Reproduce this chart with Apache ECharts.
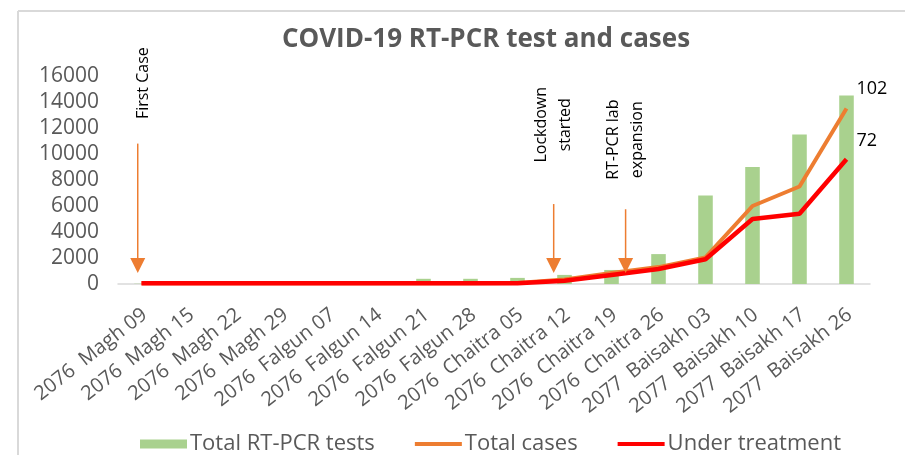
<!DOCTYPE html>
<html>
<head>
<meta charset="utf-8">
<script src="https://cdn.jsdelivr.net/npm/echarts@6/dist/echarts.min.js"></script>
<style>
  html, body { margin: 0; padding: 0; background: #fff; }
  #chart { width: 911px; height: 455px; }
</style>
</head>
<body>
<div id="chart"></div>
<script>
// 数据
const categories = [
  '2076  Magh 09', '2076  Magh 15', '2076  Magh 22', '2076  Magh 29',
  '2076  Falgun 07', '2076  Falgun 14', '2076  Falgun 21', '2076  Falgun 28',
  '2076  Chaitra 05', '2076  Chaitra 12', '2076  Chaitra 19', '2076  Chaitra 26',
  '2077  Baisakh 03', '2077  Baisakh 10', '2077  Baisakh 17', '2077  Baisakh 26'
]
const totalTests = [20, 30, 40, 50, 70, 120, 400, 400, 470, 700, 1080, 2300, 6800, 9000, 11500, 14500]
const totalCases = [60, 60, 60, 60, 60, 60, 60, 60, 80, 350, 850, 1300, 2050, 6000, 7500, 13500]
const underTreatment = [50, 50, 50, 50, 50, 50, 50, 50, 60, 250, 700, 1150, 1900, 5000, 5400, 9600]
const yMin = 0
const yMax = 16000
const yStep = 2000

// 线末端标签
const endLabels = ['102', '72']

// 事件注释：箭头所在的类目位置（可为小数）、箭头尾部数值、文字中心数值
const annotationTexts = ['First Case', 'Lockdown\nstarted', 'RT-PCR lab\nexpansion']
const annotationIndex = [-0.08, 8.77, 10.3]
const annotationTail = [10800, 6150, 5750]
const annotationTextY = [15450, 12250, 11100]
const annotationTip = 850

const grey = '#595959'
const chart = echarts.init(document.getElementById('chart'))

const endLabel = (text, dy) => ({
  show: true,
  distance: 10,
  offset: [0, dy],
  formatter: text,
  color: '#000',
  fontSize: 18,
  fontFamily: 'Open Sans'
})

chart.setOption({
  animation: false,
  backgroundColor: '#fff',
  title: {
    text: 'COVID-19 RT-PCR test and cases',
    left: 481,
    top: 22,
    textAlign: 'center',
    textStyle: {
      color: grey,
      fontSize: 26,
      fontWeight: 'bold',
      fontFamily: 'Open Sans'
    }
  },
  legend: {
    left: 135,
    top: 428,
    itemGap: 40,
    itemWidth: 47,
    itemHeight: 9,
    textStyle: { color: grey, fontSize: 22, fontFamily: 'Open Sans', padding: [0, 0, 0, -2] },
    data: [
      { name: 'Total RT-PCR tests', icon: 'rect' },
      { name: 'Total cases', icon: 'path://M0,0 L50,0 L50,4 L0,4 Z' },
      { name: 'Under treatment', icon: 'path://M0,0 L50,0 L50,4.5 L0,4.5 Z' }
    ]
  },
  grid: {
    left: 118,
    right: 41,
    top: 76,
    bottom: 171,
    containLabel: false
  },
  xAxis: {
    type: 'category',
    data: categories,
    axisLine: { lineStyle: { color: '#d9d9d9', width: 1.5 } },
    axisTick: { show: false },
    axisLabel: {
      interval: 0,
      rotate: 38,
      margin: 31,
      padding: [0, -4, 0, 0],
      color: grey,
      fontSize: 20,
      fontFamily: 'Open Sans'
    }
  },
  yAxis: {
    type: 'value',
    min: yMin,
    max: yMax,
    interval: yStep,
    axisLine: { show: false },
    axisTick: { show: false },
    splitLine: { show: false },
    axisLabel: {
      margin: 19,
      color: grey,
      fontSize: 21,
      fontFamily: 'Open Sans',
      formatter: v => String(v)
    }
  },
  series: [
    {
      name: 'Total RT-PCR tests',
      type: 'bar',
      data: totalTests,
      barWidth: '31%',
      itemStyle: { color: '#A9D18E' },
      z: 1
    },
    {
      name: 'Total cases',
      type: 'line',
      data: totalCases,
      symbol: 'none',
      lineStyle: { color: '#ED7D31', width: 4 },
      itemStyle: { color: '#ED7D31' },
      endLabel: endLabel(endLabels[0], -20),
      z: 2
    },
    {
      name: 'Under treatment',
      type: 'line',
      data: underTreatment,
      symbol: 'none',
      lineStyle: { color: '#FF0000', width: 4.5 },
      itemStyle: { color: '#FF0000' },
      endLabel: endLabel(endLabels[1], -18),
      z: 3
    }
  ]
})

// 根据坐标轴换算注释箭头和文字的位置
const x0 = chart.convertToPixel({ xAxisIndex: 0 }, 0)
const step = chart.convertToPixel({ xAxisIndex: 0 }, 1) - x0
const py = v => chart.convertToPixel({ yAxisIndex: 0 }, v)
const tipY = py(annotationTip)
const headH = 15
const headW = 15

const graphics = [
  // 图表外框（左、上）
  { type: 'line', shape: { x1: 18, y1: 11, x2: 905, y2: 11 }, style: { stroke: '#d9d9d9', lineWidth: 2 }, silent: true },
  { type: 'line', shape: { x1: 18, y1: 11, x2: 18, y2: 455 }, style: { stroke: '#d9d9d9', lineWidth: 2 }, silent: true }
]

annotationTexts.forEach((text, i) => {
  const ax = x0 + annotationIndex[i] * step
  graphics.push({
    type: 'line',
    shape: { x1: ax, y1: py(annotationTail[i]), x2: ax, y2: tipY - headH + 1 },
    style: { stroke: '#ED7D31', lineWidth: 1.5 },
    z: 10
  })
  graphics.push({
    type: 'polygon',
    shape: { points: [[ax - headW / 2, tipY - headH], [ax + headW / 2, tipY - headH], [ax, tipY]] },
    style: { fill: '#ED7D31' },
    z: 10
  })
  // 竖排注释文字
  graphics.push({
    type: 'text',
    x: ax + (i === 0 ? 6 : 0),
    y: py(annotationTextY[i]),
    rotation: Math.PI / 2,
    z: 10,
    style: {
      text: text,
      fill: '#000',
      font: 'normal 400 16px "Open Sans", sans-serif',
      lineHeight: 24,
      align: 'center',
      verticalAlign: 'middle'
    }
  })
})

chart.setOption({ graphic: graphics })

window.addEventListener('resize', () => chart.resize())
</script>
</body>
</html>
